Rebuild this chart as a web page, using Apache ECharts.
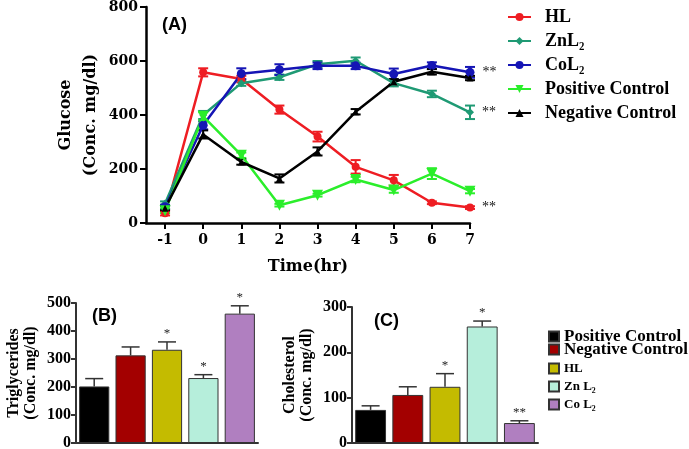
<!DOCTYPE html>
<html>
<head>
<meta charset="utf-8">
<script src="https://cdn.jsdelivr.net/npm/echarts@6/dist/echarts.min.js"></script>
<style>
  html, body { margin: 0; padding: 0; background: #fff; }
  #main { width: 689px; height: 449px; }
</style>
</head>
<body>
<div id="main"></div>
<script>
// glucose over time (panel A)
const hours = [-1, 0, 1, 2, 3, 4, 5, 6, 7];
const hlGlucose = [36, 558, 533, 420, 320, 208, 158, 75, 57];
const hlErr = [8, 15, 12, 15, 18, 25, 20, 5, 5];
const znGlucose = [72, 400, 518, 540, 588, 601, 518, 478, 410];
const znErr = [8, 15, 10, 10, 12, 12, 12, 12, 25];
const coGlucose = [60, 362, 553, 568, 582, 582, 552, 583, 558];
const coErr = [8, 15, 20, 20, 12, 12, 20, 12, 20];
const posGlucose = [45, 395, 251, 66, 103, 161, 122, 183, 118];
const posErr = [8, 15, 10, 5, 5, 10, 10, 20, 8];
const negGlucose = [55, 328, 226, 165, 265, 412, 523, 560, 537];
const negErr = [8, 15, 10, 15, 15, 10, 10, 10, 8];

// triglycerides and cholesterol (panels B and C)
const groups = ['Positive Control', 'Negative Control', 'HL', 'Zn L₂', 'Co L₂'];
const trig = [202, 313, 333, 232, 462];
const trigErr = [28, 30, 28, 12, 28];
const trigStars = ['', '', '*', '*', '*'];
const chol = [73, 106, 124, 257, 44];
const cholErr = [9, 18, 29, 12, 5];
const cholStars = ['', '', '*', '*', '**'];

const lineNames = ['HL', 'ZnL₂', 'CoL₂', 'Positive Control', 'Negative Control'];
const lineColors = ['#ee1d23', '#1f9a74', '#1515b5', '#2bee2b', '#000000'];
const barColors = ['#000000', '#a30000', '#c4bb00', '#b6eedb', '#b07fc0'];

const serif = 'Liberation Serif';
const wideSerif = 'DejaVu Serif';

function zip(ys, errs) {
  return hours.map((h, i) => [h, ys[i], errs[i]]);
}

function lineErrorItem(params, api) {
  const x = api.value(0), y = api.value(1), e = api.value(2);
  const lo = api.coord([x, y - e]);
  const hi = api.coord([x, y + e]);
  const style = { stroke: api.visual('color'), lineWidth: 2 };
  return {
    type: 'group',
    children: [
      { type: 'line', shape: { x1: lo[0], y1: lo[1], x2: hi[0], y2: hi[1] }, style },
      { type: 'line', shape: { x1: hi[0] - 5, y1: hi[1], x2: hi[0] + 5, y2: hi[1] }, style },
      { type: 'line', shape: { x1: lo[0] - 5, y1: lo[1], x2: lo[0] + 5, y2: lo[1] }, style }
    ]
  };
}

function makeBarErrorItem(stars) {
  return function (params, api) {
    const i = api.value(0), v = api.value(1), e = api.value(2);
    const top = api.coord([i, v]);
    const cap = api.coord([i, v + e]);
    const style = { stroke: '#333', lineWidth: 1.5 };
    const kids = [
      { type: 'line', shape: { x1: top[0], y1: top[1], x2: cap[0], y2: cap[1] }, style },
      { type: 'line', shape: { x1: cap[0] - 9, y1: cap[1], x2: cap[0] + 9, y2: cap[1] }, style }
    ];
    const s = stars[params.dataIndex];
    if (s) {
      kids.push({
        type: 'text',
        style: { text: s, x: cap[0], y: cap[1] - 2, align: 'center', verticalAlign: 'bottom',
          fill: '#222', font: '13px ' + serif }
      });
    }
    return { type: 'group', children: kids };
  };
}

const lineSets = [
  [hlGlucose, hlErr, 'circle', 8, '**'],
  [znGlucose, znErr, 'diamond', 8, '**'],
  [coGlucose, coErr, 'circle', 9, '**'],
  [posGlucose, posErr, 'path://M0,0 L10,0 L5,9 Z', 11, ''],
  [negGlucose, negErr, 'triangle', 7, '']
];

const series = [];
lineSets.forEach((s, k) => {
  const [ys, errs, sym, size, star] = s;
  const data = hours.map((h, i) => {
    const item = { value: [h, ys[i]] };
    if (i === hours.length - 1 && star) {
      item.label = { show: true, position: 'right', distance: 8, formatter: star,
        color: '#111', fontSize: 14, fontFamily: serif };
    }
    return item;
  });
  series.push({
    type: 'custom', xAxisIndex: 0, yAxisIndex: 0, renderItem: lineErrorItem,
    itemStyle: { color: lineColors[k] }, data: zip(ys, errs), z: 2, silent: true
  });
  series.push({
    name: lineNames[k], type: 'line', xAxisIndex: 0, yAxisIndex: 0,
    symbol: sym, symbolSize: size, color: lineColors[k],
    lineStyle: { width: 2.5 }, data, z: 3
  });
});

function addBars(axis, prefix, values, errs, stars) {
  groups.forEach((g, k) => {
    series.push({
      name: prefix + g, type: 'bar', xAxisIndex: axis, yAxisIndex: axis,
      barWidth: '83%', barGap: '-100%',
      itemStyle: { color: barColors[k], borderColor: '#333', borderWidth: 1 },
      data: values.map((v, i) => (i === k ? v : '-'))
    });
  });
  series.push({
    type: 'custom', xAxisIndex: axis, yAxisIndex: axis, silent: true, z: 5,
    renderItem: makeBarErrorItem(stars),
    data: values.map((v, i) => [i, v, errs[i]])
  });
}
addBars(1, 'b:', trig, trigErr, trigStars);
addBars(2, 'c:', chol, cholErr, cholStars);

const topTick = { fontFamily: wideSerif, fontWeight: 'bold', color: '#000', fontSize: 14 };
const barTick = { fontFamily: serif, fontWeight: 'bold', color: '#000', fontSize: 16 };
const panelFont = { fontFamily: 'Liberation Sans', fontWeight: 'bold', fontSize: 18, color: '#000' };

function barYAxis(grid, max, title) {
  return {
    type: 'value', gridIndex: grid, min: 0, max: max, interval: 100,
    name: title + '\n(Conc. mg/dl)', nameLocation: 'middle', nameGap: 37, nameRotate: 90,
    nameTextStyle: { fontFamily: serif, fontWeight: 'bold', fontSize: 16, lineHeight: 17, color: '#000' },
    axisLine: { show: true, onZero: false, lineStyle: { color: '#333', width: 2 } },
    axisTick: { show: true, length: 5, lineStyle: { width: 2 } },
    axisLabel: Object.assign({ margin: 5 }, barTick),
    splitLine: { show: false }
  };
}

function barXAxis(grid) {
  return {
    type: 'category', gridIndex: grid, data: groups,
    axisLine: { lineStyle: { color: '#333', width: 2 } },
    axisTick: { show: false }, axisLabel: { show: false }
  };
}

function barLegend(names, top, gap, size) {
  return {
    data: names.map(g => 'c:' + g), orient: 'vertical', left: 543, top: top,
    icon: 'rect', itemWidth: 10, itemHeight: 10, itemGap: gap,
    formatter: n => n.slice(2),
    textStyle: { fontFamily: serif, fontWeight: 'bold', fontSize: size, color: '#000' }
  };
}

const option = {
  backgroundColor: '#fff',
  animation: false,
  title: [
    { text: '(A)', left: 157, top: 11, textStyle: panelFont },
    { text: '(B)', left: 87, top: 302, textStyle: panelFont },
    { text: '(C)', left: 369, top: 307, textStyle: panelFont }
  ],
  legend: [
    {
      data: lineNames, orient: 'vertical', left: 502, top: 3, itemWidth: 23, itemHeight: 10,
      itemGap: 6,
      textStyle: { fontFamily: serif, fontWeight: 'bold', fontSize: 18, color: '#000', padding: [0, 0, 0, 9] }
    },
    barLegend(groups.slice(0, 2), 323, -4, 17),
    barLegend(groups.slice(2), 357, 5, 13)
  ],
  grid: [
    { left: 146, right: 219, top: 7, bottom: 226, outerBoundsMode: 'none' },
    { left: 76, right: 431, top: 303, bottom: 6, outerBoundsMode: 'none' },
    { left: 352, right: 151, top: 307, bottom: 6, outerBoundsMode: 'none' }
  ],
  xAxis: [
    {
      type: 'value', gridIndex: 0, min: -1.5, max: 7,
      name: 'Time(hr)', nameLocation: 'middle', nameGap: 36,
      nameTextStyle: { fontFamily: wideSerif, fontWeight: 'bold', fontSize: 16, color: '#000' },
      axisLine: { onZero: false, lineStyle: { color: '#000', width: 2.5 } },
      axisTick: { customValues: hours, length: 6, lineStyle: { width: 2 } },
      axisLabel: Object.assign({ customValues: hours, margin: 10 }, topTick),
      splitLine: { show: false }
    },
    barXAxis(1),
    barXAxis(2)
  ],
  yAxis: [
    {
      type: 'value', gridIndex: 0, min: 0, max: 800, interval: 200,
      name: 'Glucose\n(Conc. mg/dl)', nameLocation: 'middle', nameGap: 43, nameRotate: 90,
      nameTextStyle: { fontFamily: wideSerif, fontWeight: 'bold', fontSize: 16, lineHeight: 25, color: '#000' },
      axisLine: { show: true, onZero: false, lineStyle: { color: '#000', width: 2.5 } },
      axisTick: { show: true, length: 6, lineStyle: { width: 2 } },
      axisLabel: Object.assign({ margin: 8 }, topTick),
      splitLine: { show: false }
    },
    barYAxis(1, 500, 'Triglycerides'),
    barYAxis(2, 300, 'Cholesterol')
  ],
  series
};

const chart = echarts.init(document.getElementById('main'));
chart.setOption(option);
</script>
</body>
</html>
